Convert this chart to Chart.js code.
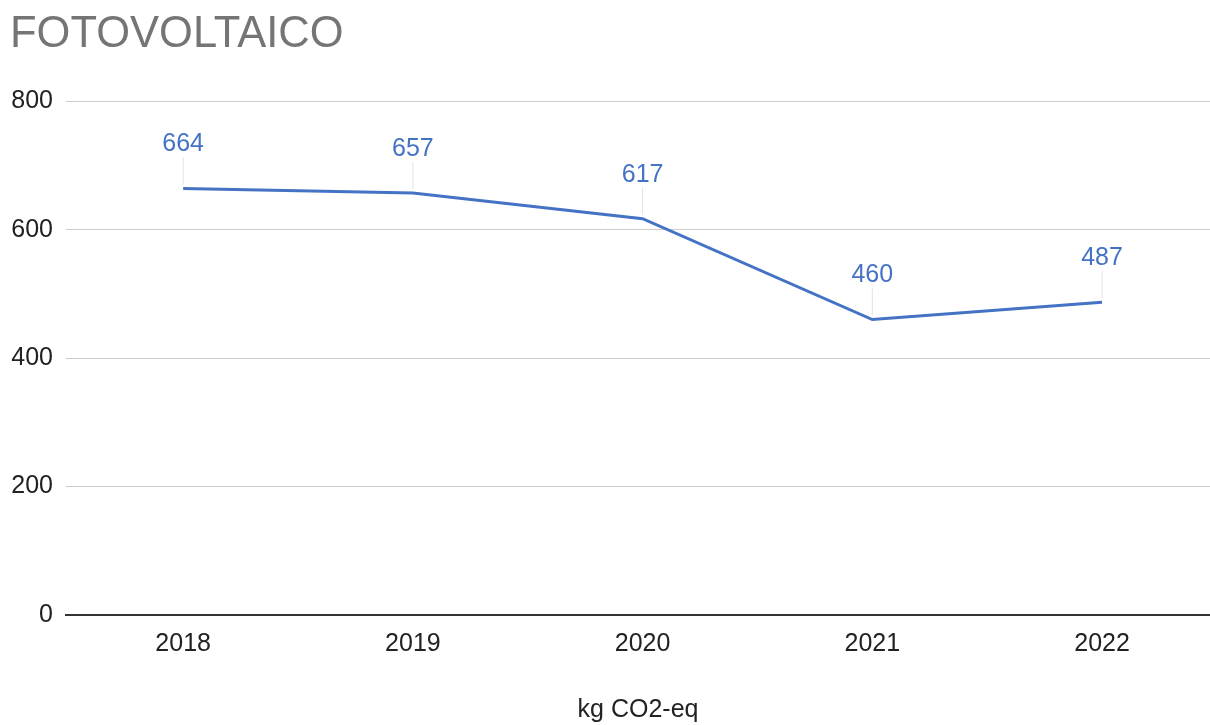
<!DOCTYPE html>
<html>
<head>
<meta charset="utf-8">
<script src="https://cdn.jsdelivr.net/npm/chart.js@4"></script>
<style>
  html, body { margin: 0; padding: 0; background: #fff; }
  #wrap { width: 1210px; height: 725px; }
</style>
</head>
<body>
<div id="wrap"><canvas id="pvChart" width="1210" height="725"></canvas></div>
<script>
const years = [2018, 2019, 2020, 2021, 2022];
const emissions = [664, 657, 617, 460, 487];
const yTicks = [0, 200, 400, 600, 800];

const fontFamily = '"Liberation Sans", Arial, Helvetica, sans-serif';
const lineBlue = '#4472c4';

// labels above each point with a thin leader line down to the line
const pointLabels = {
  id: 'pointLabels',
  afterDatasetsDraw(chart) {
    const c = chart.ctx;
    const meta = chart.getDatasetMeta(0);
    c.save();
    meta.data.forEach((pt, i) => {
      c.strokeStyle = '#e2e2e2';
      c.lineWidth = 1;
      c.beginPath();
      c.moveTo(pt.x, pt.y - 4);
      c.lineTo(pt.x, pt.y - 31);
      c.stroke();
      c.fillStyle = lineBlue;
      c.font = '25px ' + fontFamily;
      c.textAlign = 'center';
      c.textBaseline = 'middle';
      c.fillText(String(emissions[i]), pt.x, pt.y - 44);
    });
    c.restore();
  }
};

const ctx = document.getElementById('pvChart').getContext('2d');
new Chart(ctx, {
  type: 'line',
  data: {
    datasets: [{
      label: 'kg CO2-eq',
      data: years.map((yr, i) => ({ x: yr, y: emissions[i] })),
      borderColor: lineBlue,
      borderWidth: 3,
      pointRadius: 0,
      tension: 0,
      fill: false
    }]
  },
  options: {
    responsive: false,
    animation: false,
    layout: { padding: { left: 10, right: 0, top: 0, bottom: 0 } },
    plugins: {
      legend: { display: false },
      tooltip: { enabled: false },
      title: {
        display: true,
        text: 'FOTOVOLTAICO',
        align: 'start',
        color: '#757575',
        font: { family: fontFamily, size: 43.5, weight: 'normal' },
        padding: { top: 9, bottom: 40 }
      }
    },
    scales: {
      x: {
        type: 'linear',
        min: 2017.49,
        max: 2022.47,
        afterBuildTicks(axis) { axis.ticks = years.map(v => ({ value: v })); },
        grid: { display: false, drawTicks: false },
        border: { color: '#333', width: 2 },
        ticks: {
          color: '#222', padding: 14, font: { family: fontFamily, size: 25 },
          callback: v => String(v)
        },
        title: {
          display: true,
          text: 'kg CO2-eq',
          color: '#222',
          font: { family: fontFamily, size: 25 },
          padding: { top: 22, bottom: 0 }
        }
      },
      y: {
        min: 0,
        max: 800,
        afterBuildTicks(axis) { axis.ticks = yTicks.map(v => ({ value: v })); },
        afterFit(axis) { axis.width = 56; },
        grid: { color: '#cccccc', lineWidth: 1, drawTicks: false },
        border: { display: false },
        ticks: { color: '#222', padding: 13, font: { family: fontFamily, size: 25 } }
      }
    }
  },
  plugins: [pointLabels]
});
</script>
</body>
</html>
